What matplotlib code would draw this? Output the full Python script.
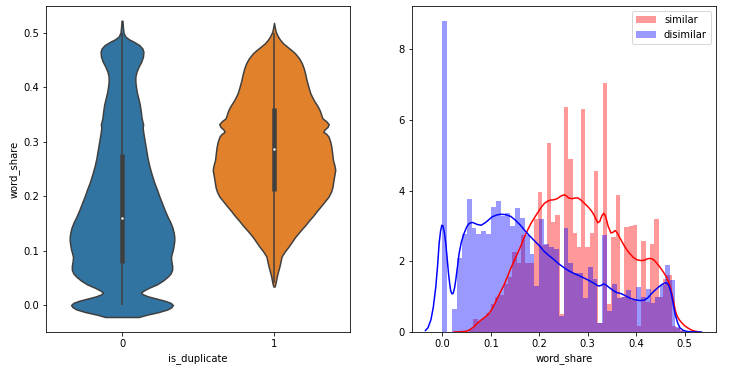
import numpy as np
import matplotlib
matplotlib.use("Agg")
import matplotlib.pyplot as plt

# ---------------- data ----------------
categories = [0, 1]
violin_colors = ["#3274a1", "#e1812c"]

# violin profiles: (word_share, half width)
violin0_profile = [(-0.022, 0.11), (-0.018, 0.16), (-0.013, 0.24), (-0.008, 0.30), (-0.004, 0.325),
                   (0.0, 0.335), (0.004, 0.32), (0.008, 0.28), (0.012, 0.225), (0.016, 0.17),
                   (0.020, 0.135), (0.023, 0.125), (0.027, 0.145), (0.032, 0.18), (0.038, 0.23),
                   (0.045, 0.27), (0.052, 0.30), (0.058, 0.32), (0.065, 0.33), (0.072, 0.33),
                   (0.080, 0.325), (0.088, 0.322), (0.095, 0.328), (0.102, 0.335), (0.11, 0.34),
                   (0.118, 0.344), (0.125, 0.344), (0.133, 0.34), (0.142, 0.332), (0.152, 0.318),
                   (0.162, 0.30), (0.175, 0.28), (0.188, 0.262), (0.20, 0.245), (0.212, 0.23),
                   (0.225, 0.212), (0.24, 0.195), (0.255, 0.18), (0.27, 0.168), (0.285, 0.159),
                   (0.30, 0.15), (0.315, 0.141), (0.325, 0.136), (0.332, 0.139), (0.338, 0.133),
                   (0.345, 0.128), (0.355, 0.124), (0.368, 0.117), (0.38, 0.107), (0.39, 0.098),
                   (0.40, 0.092), (0.41, 0.088), (0.419, 0.088), (0.428, 0.095), (0.438, 0.11),
                   (0.447, 0.127), (0.456, 0.138), (0.465, 0.141), (0.471, 0.134), (0.477, 0.115),
                   (0.483, 0.08), (0.488, 0.045), (0.493, 0.022), (0.5, 0.01), (0.51, 0.006),
                   (0.522, 0.003)]
violin1_profile = [(0.034, 0.004), (0.04, 0.01), (0.046, 0.014), (0.052, 0.018), (0.06, 0.025),
                   (0.07, 0.035), (0.08, 0.043), (0.089, 0.05), (0.098, 0.07), (0.107, 0.095),
                   (0.115, 0.115), (0.124, 0.137), (0.132, 0.16), (0.14, 0.185), (0.148, 0.21),
                   (0.156, 0.233), (0.164, 0.258), (0.172, 0.28), (0.18, 0.304), (0.19, 0.333),
                   (0.199, 0.359), (0.208, 0.375), (0.216, 0.384), (0.223, 0.388), (0.232, 0.393),
                   (0.24, 0.398), (0.248, 0.403), (0.256, 0.398), (0.266, 0.388), (0.278, 0.383),
                   (0.291, 0.377), (0.30, 0.37), (0.309, 0.359), (0.314, 0.345), (0.318, 0.325),
                   (0.322, 0.332), (0.327, 0.352), (0.332, 0.36), (0.337, 0.345), (0.343, 0.318),
                   (0.35, 0.31), (0.358, 0.30), (0.366, 0.285), (0.376, 0.262), (0.388, 0.24),
                   (0.4, 0.227), (0.412, 0.215), (0.425, 0.205), (0.435, 0.195), (0.444, 0.183),
                   (0.453, 0.165), (0.462, 0.139), (0.468, 0.115), (0.474, 0.088), (0.48, 0.062),
                   (0.487, 0.04), (0.494, 0.024), (0.502, 0.011), (0.51, 0.005), (0.518, 0.0)]

# inner box statistics per category
box_q1 = [0.078, 0.21]
box_median = [0.159, 0.286]
box_q3 = [0.277, 0.361]
whisker_low = [0.0, 0.04]
whisker_high = [0.5, 0.5]

# histograms (density heights)
similar_range = (0.055, 0.5)
similar_heights = [0.08, 0.37, 0.30, 0.40, 0.55, 0.80, 1.0, 1.05, 1.35, 1.55,
                   2.27, 1.95, 2.75, 1.95, 1.95, 3.2, 3.95, 2.45, 5.35, 3.1,
                   3.3, 0.5, 6.35, 4.9, 2.8, 2.4, 6.3, 2.4, 2.8, 4.55,
                   0.25, 7.05, 0.8, 2.7, 3.87, 1.0, 2.98, 3.0, 3.03, 0.17,
                   2.57, 0.85, 2.5, 3.2, 1.0, 1.5, 1.6, 0.18, 0.12, 0.05]
dissimilar_range = (0.0, 0.5)
dissimilar_heights = [8.79, 0.0, 0.65, 2.10, 2.77, 3.76, 2.94, 2.78, 2.87, 2.78,
                      3.54, 3.70, 3.28, 3.36, 3.00, 3.50, 3.22, 2.74, 2.2, 1.3,
                      3.2, 2.5, 2.4, 2.35, 0.45, 2.95, 1.96, 1.68, 1.66, 0.97,
                      1.85, 1.5, 0.25, 2.74, 0.6, 1.36, 0.95, 0.98, 1.19, 0.9,
                      1.27, 1.0, 1.22, 0.81, 1.0, 1.33, 1.9, 1.47, 0.15, 0.02]

similar_kde = [(0.024, 0.0), (0.035, 0.005), (0.045, 0.015), (0.0515, 0.03), (0.058, 0.08),
               (0.065, 0.15), (0.072, 0.25), (0.079, 0.33), (0.086, 0.40), (0.093, 0.48),
               (0.098, 0.56), (0.103, 0.67), (0.108, 0.80), (0.113, 0.95), (0.120, 1.14),
               (0.127, 1.33), (0.134, 1.56), (0.141, 1.80), (0.148, 2.01), (0.155, 2.22),
               (0.162, 2.44), (0.168, 2.65), (0.175, 2.86), (0.182, 3.05), (0.189, 3.21),
               (0.196, 3.36), (0.203, 3.51), (0.21, 3.63), (0.217, 3.70), (0.223, 3.73),
               (0.23, 3.74), (0.237, 3.77), (0.244, 3.84), (0.251, 3.88), (0.256, 3.85),
               (0.261, 3.79), (0.268, 3.77), (0.274, 3.79), (0.280, 3.79), (0.287, 3.72),
               (0.294, 3.63), (0.302, 3.52), (0.308, 3.42), (0.313, 3.31), (0.317, 3.19),
               (0.321, 3.09), (0.325, 3.13), (0.329, 3.28), (0.333, 3.36), (0.337, 3.27),
               (0.342, 3.00), (0.348, 2.80), (0.352, 2.82), (0.357, 2.87), (0.362, 2.78),
               (0.368, 2.62), (0.375, 2.45), (0.381, 2.32), (0.388, 2.20), (0.395, 2.10),
               (0.402, 2.04), (0.41, 2.02), (0.417, 2.03), (0.423, 2.07), (0.428, 2.08),
               (0.433, 2.07), (0.438, 2.02), (0.443, 1.94), (0.45, 1.82), (0.457, 1.68),
               (0.462, 1.57), (0.467, 1.42), (0.471, 1.25), (0.474, 1.08), (0.478, 0.82),
               (0.481, 0.60), (0.485, 0.44), (0.49, 0.33), (0.495, 0.25), (0.50, 0.18),
               (0.505, 0.13), (0.511, 0.08), (0.517, 0.04), (0.524, 0.015), (0.531, 0.0)]

dissimilar_kde = [(-0.0353, 0.04), (-0.030, 0.12), (-0.024, 0.34), (-0.019, 0.7), (-0.0138, 1.28),
                  (-0.010, 1.9), (-0.007, 2.5), (-0.004, 2.85), (-0.0014, 3.02), (0.001, 3.0),
                  (0.004, 2.8), (0.0068, 2.5), (0.0095, 2.1), (0.0124, 1.66), (0.015, 1.35),
                  (0.017, 1.16), (0.0195, 1.08), (0.022, 1.09), (0.025, 1.25), (0.0274, 1.47),
                  (0.031, 1.85), (0.0343, 2.22), (0.039, 2.55), (0.0446, 2.79), (0.050, 2.97),
                  (0.055, 3.07), (0.0618, 3.1), (0.067, 3.07), (0.072, 3.04), (0.080, 3.02),
                  (0.0893, 3.1), (0.096, 3.18), (0.103, 3.26), (0.112, 3.31), (0.120, 3.33),
                  (0.130, 3.32), (0.141, 3.27), (0.150, 3.17), (0.161, 3.02), (0.170, 2.87),
                  (0.18, 2.72), (0.19, 2.58), (0.20, 2.44), (0.21, 2.28), (0.22, 2.16),
                  (0.23, 2.05), (0.24, 1.93), (0.251, 1.82), (0.261, 1.73), (0.271, 1.66),
                  (0.281, 1.60), (0.292, 1.53), (0.302, 1.46), (0.313, 1.38), (0.318, 1.33),
                  (0.323, 1.30), (0.328, 1.32), (0.333, 1.36), (0.338, 1.33), (0.344, 1.26),
                  (0.354, 1.16), (0.361, 1.11), (0.368, 1.09), (0.376, 1.04), (0.385, 0.97),
                  (0.393, 0.93), (0.402, 0.90), (0.409, 0.89), (0.416, 0.90), (0.423, 0.95),
                  (0.43, 1.06), (0.438, 1.17), (0.447, 1.28), (0.454, 1.35), (0.46, 1.39),
                  (0.464, 1.38), (0.467, 1.33), (0.470, 1.22), (0.474, 1.0), (0.477, 0.75),
                  (0.481, 0.48), (0.486, 0.25), (0.491, 0.11), (0.497, 0.05), (0.505, 0.015),
                  (0.515, 0.004), (0.525, 0.001), (0.535, 0.0)]

series_labels = ["similar", "disimilar"]

# ---------------- figure ----------------
W, H = 741, 369
fig = plt.figure(figsize=(W / 72, H / 72), dpi=72)
ax1 = fig.add_axes([46 / W, 1 - 332 / H, 304 / W, 326 / H])
ax2 = fig.add_axes([412 / W, 1 - 332 / H, 304 / W, 326 / H])

gray = "#3f3f3f"
lw = 1.5

# violins
for pos, prof, col in zip(categories, [violin0_profile, violin1_profile], violin_colors):
    ys = np.array([p[0] for p in prof])
    hw = np.array([p[1] for p in prof])
    ax1.fill_betweenx(ys, pos - hw, pos + hw, facecolor=col, edgecolor=gray, linewidth=lw, zorder=1)

for i, pos in enumerate(categories):
    ax1.plot([pos, pos], [whisker_low[i], whisker_high[i]], color=gray, linewidth=lw,
             solid_capstyle="butt", zorder=2)
    ax1.plot([pos, pos], [box_q1[i], box_q3[i]], color=gray, linewidth=lw * 3,
             solid_capstyle="butt", zorder=2)
    ax1.scatter([pos], [box_median[i]], color="white", edgecolor=gray, s=(lw * 2) ** 2,
                linewidth=0.5, zorder=3)

ax1.set_xlim(-0.5, 1.5)
ax1.set_ylim(-0.0495, 0.549)
ax1.set_xticks(categories)
ax1.set_xticklabels([str(c) for c in categories])
ax1.set_xlabel("is_duplicate")
ax1.set_ylabel("word_share")

# histograms + kde
sim_edges = np.linspace(similar_range[0], similar_range[1], len(similar_heights) + 1)
dis_edges = np.linspace(dissimilar_range[0], dissimilar_range[1], len(dissimilar_heights) + 1)

ax2.hist(sim_edges[:-1], bins=sim_edges, weights=similar_heights, color="r", alpha=0.4,
         label=series_labels[0])
ax2.plot([p[0] for p in similar_kde], [p[1] for p in similar_kde], color="r", linewidth=lw)
ax2.hist(dis_edges[:-1], bins=dis_edges, weights=dissimilar_heights, color="b", alpha=0.4,
         label=series_labels[1])
ax2.plot([p[0] for p in dissimilar_kde], [p[1] for p in dissimilar_kde], color="b", linewidth=lw)

ax2.set_xlim(-0.063, 0.565)
ax2.set_ylim(0, 9.22)
ax2.set_yticks([0, 2, 4, 6, 8])
ax2.set_xlabel("word_share")
ax2.legend(loc="upper right")

fig.savefig("out.png", dpi=72)
